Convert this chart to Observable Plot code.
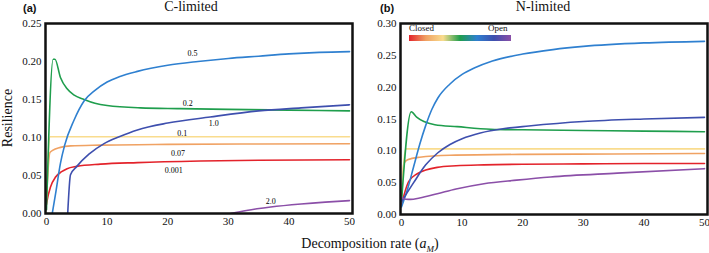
<!DOCTYPE html>
<html>
<head>
<meta charset="utf-8">
<script src="https://cdn.jsdelivr.net/npm/d3@7"></script>
<script src="https://cdn.jsdelivr.net/npm/@observablehq/plot@0.6"></script>
<style>
  body { margin: 0; background: white; }
  #wrap { position: relative; width: 709px; height: 253px; background: white; overflow: hidden; }
  .abs { position: absolute; white-space: nowrap; line-height: 1; }
  .serif { font-family: "Liberation Serif", "Times New Roman", serif; color: #111; }
  .panel { font-family: "Liberation Sans", Arial, sans-serif; font-weight: bold; font-size: 11px; color: #111; }
</style>
</head>
<body>
<div id="wrap">
  <div id="left" class="abs" style="left:0;top:0"></div>
  <div id="right" class="abs" style="left:355px;top:0"></div>
  <div class="abs panel" style="left:23px;top:3px">(a)</div>
  <div class="abs panel" style="left:380px;top:3px">(b)</div>
  <div class="abs serif" style="left:191px;top:0px;font-size:14px;transform:translateX(-50%)">C-limited</div>
  <div class="abs serif" style="left:543px;top:0px;font-size:14px;transform:translateX(-50%)">N-limited</div>
  <div class="abs serif" style="left:8px;top:118px;font-size:14px;transform:translate(-50%,-50%) rotate(-90deg)">Resilience</div>
  <div class="abs serif" style="left:370px;top:237px;font-size:14px;transform:translateX(-50%)">Decomposition rate (<i>a</i><sub style="font-size:9px;font-style:italic">M</sub>)</div>
  <div class="abs serif" style="left:409px;top:24px;font-size:9px">Closed</div>
  <div class="abs serif" style="left:488px;top:24px;font-size:9px">Open</div>
  <div id="legendbar" class="abs" style="left:409px;top:35px;width:102px;height:6px"></div>
</div>
<script>
// ---------- Data ----------
const seriesNames = ["0.001", "0.07", "0.1", "0.2", "0.5", "1.0", "2.0"];
const seriesColors = ["#e3232b", "#f0a263", "#f9dc8e", "#1f9e4d", "#2f80d0", "#3e4fae", "#8b4fa8"];

const xTicks = [0, 10, 20, 30, 40, 50];
const yTicksC = [0, 0.05, 0.10, 0.15, 0.20, 0.25];
const yTicksN = [0, 0.05, 0.10, 0.15, 0.20, 0.25, 0.30];

// C-limited
const cX_0001 = [0, 0.1, 0.66, 1.5, 2.5, 3.4, 5, 8.9, 15, 25.4, 35, 50];
const cY_0001 = [0.012, 0.017, 0.035, 0.048, 0.055, 0.059, 0.062, 0.065, 0.067, 0.069, 0.070, 0.0707];
const cX_007 = [0, 0.55, 1, 2.3, 4, 8.9, 20, 35, 50];
const cY_007 = [0.02, 0.080, 0.083, 0.087, 0.089, 0.090, 0.091, 0.0915, 0.0917];
const cX_01 = [0, 0.6, 50];
const cY_01 = [0.02, 0.101, 0.101];
const cX_02 = [0, 1.1, 1.4, 2.3, 3.4, 4.5, 6.2, 8, 10, 15.5, 22, 30, 40, 50];
const cY_02 = [0.005, 0.203, 0.203, 0.179, 0.164, 0.156, 0.150, 0.145, 0.142, 0.139, 0.138, 0.137, 0.136, 0.135];
const cX_05 = [0.95, 1.5, 2.3, 3, 4.5, 6.2, 8, 10, 12, 15, 20, 25, 30, 35, 40, 45, 50];
const cY_05 = [0, 0.026, 0.066, 0.09, 0.122, 0.148, 0.162, 0.173, 0.180, 0.187, 0.195, 0.200, 0.204, 0.207, 0.210, 0.212, 0.213];
const cX_10 = [3.5, 3.96, 5, 7, 9.5, 12, 15, 20, 27, 35, 42, 50];
const cY_10 = [0, 0.051, 0.062, 0.078, 0.092, 0.101, 0.110, 0.119, 0.127, 0.135, 0.139, 0.143];
const cX_20 = [30.4, 33, 37, 42, 46, 50];
const cY_20 = [0, 0.004, 0.0085, 0.0125, 0.015, 0.017];

// labels in C-limited panel
const labelText = ["0.5", "0.2", "1.0", "0.1", "0.07", "0.001", "2.0"];
const labelX = [24.1, 23.3, 27.6, 22.4, 21.7, 21.0, 37.0];
const labelY = [0.2105, 0.1447, 0.1188, 0.106, 0.0785, 0.0566, 0.0158];

// N-limited
const nX_0001 = [0, 0.4, 1.2, 2.6, 4, 5.9, 9, 13.6, 20, 30, 40, 50];
const nY_0001 = [0.015, 0.03, 0.052, 0.064, 0.070, 0.074, 0.0765, 0.078, 0.079, 0.0795, 0.080, 0.080];
const nX_007 = [0, 0.4, 1, 3, 8, 20, 35, 50];
const nY_007 = [0.02, 0.08, 0.086, 0.09, 0.093, 0.0945, 0.095, 0.0958];
const nX_01 = [0, 0.7, 50];
const nY_01 = [0.02, 0.103, 0.103];
const nX_02 = [0, 1.6, 2.5, 3.7, 5.5, 9.2, 14.7, 20, 30, 40, 50];
const nY_02 = [0.02, 0.1615, 0.153, 0.146, 0.141, 0.138, 0.134, 0.133, 0.132, 0.131, 0.130];
const nX_05 = [0, 1, 2, 3, 4, 5, 6, 8, 10, 12, 15, 20, 25, 30, 40, 50];
const nY_05 = [0.012, 0.04, 0.075, 0.11, 0.14, 0.165, 0.183, 0.205, 0.220, 0.230, 0.241, 0.252, 0.259, 0.264, 0.2695, 0.272];
const nX_10 = [0, 2, 4, 6, 8, 10, 13, 17, 21, 30, 40, 50];
const nY_10 = [0.02, 0.05, 0.078, 0.097, 0.110, 0.119, 0.128, 0.135, 0.139, 0.146, 0.150, 0.1526];
const nX_20 = [0, 0.7, 1.5, 3, 5.9, 9, 13.6, 19, 24.6, 35.6, 50];
const nY_20 = [0.027, 0.024, 0.0237, 0.026, 0.0326, 0.040, 0.0484, 0.054, 0.059, 0.065, 0.072];

// ---------- Build tables ----------
function toRows(xs, ys, name) { return xs.map((x, i) => ({x, y: ys[i], s: name})); }
const cRows = [
  ...toRows(cX_0001, cY_0001, "0.001"), ...toRows(cX_007, cY_007, "0.07"),
  ...toRows(cX_01, cY_01, "0.1"), ...toRows(cX_02, cY_02, "0.2"),
  ...toRows(cX_05, cY_05, "0.5"), ...toRows(cX_10, cY_10, "1.0"),
  ...toRows(cX_20, cY_20, "2.0")
];
const nRows = [
  ...toRows(nX_0001, nY_0001, "0.001"), ...toRows(nX_007, nY_007, "0.07"),
  ...toRows(nX_01, nY_01, "0.1"), ...toRows(nX_02, nY_02, "0.2"),
  ...toRows(nX_05, nY_05, "0.5"), ...toRows(nX_10, nY_10, "1.0"),
  ...toRows(nX_20, nY_20, "2.0")
];
const labels = labelText.map((t, i) => ({t, x: labelX[i], y: labelY[i]}));

const common = {
  style: {fontFamily: '"Liberation Serif", "Times New Roman", serif', fontSize: "11px", background: "transparent", color: "#111"},
  color: {domain: seriesNames, range: seriesColors}
};

const left = Plot.plot({
  ...common,
  width: 355, height: 230,
  marginLeft: 45, marginRight: 3, marginTop: 23, marginBottom: 17,
  x: {domain: [0, 50], ticks: xTicks, tickSize: 0, tickPadding: 4, label: null, insetLeft: 1, insetRight: 3},
  y: {domain: [0, 0.25], ticks: yTicksC, tickSize: 0, tickPadding: 4, tickFormat: d3.format(".2f"), label: null},
  marks: [
    Plot.line(cRows, {x: "x", y: "y", z: "s", stroke: "s", strokeWidth: 1.6, curve: "monotone-x", clip: true}),
    Plot.text(labels, {x: "x", y: "y", text: "t", fontSize: 8, fill: "black"}),
    Plot.frame({stroke: "#111", strokeWidth: 2.5})
  ]
});
document.getElementById("left").appendChild(left);

const right = Plot.plot({
  ...common,
  width: 354, height: 231,
  marginLeft: 45, marginRight: 2, marginTop: 23, marginBottom: 17,
  x: {domain: [0, 50], ticks: xTicks, tickSize: 0, tickPadding: 4, label: null, insetLeft: 1, insetRight: 3},
  y: {domain: [0, 0.30], ticks: yTicksN, tickSize: 0, tickPadding: 4, tickFormat: d3.format(".2f"), label: null},
  marks: [
    Plot.line(nRows, {x: "x", y: "y", z: "s", stroke: "s", strokeWidth: 1.6, curve: "monotone-x", clip: true}),
    Plot.frame({stroke: "#111", strokeWidth: 2.5})
  ]
});
document.getElementById("right").appendChild(right);

// legend colour ramp built from the series colours
document.getElementById("legendbar").style.background =
  "linear-gradient(to right, " + seriesColors.join(", ") + ")";
</script>
</body>
</html>
